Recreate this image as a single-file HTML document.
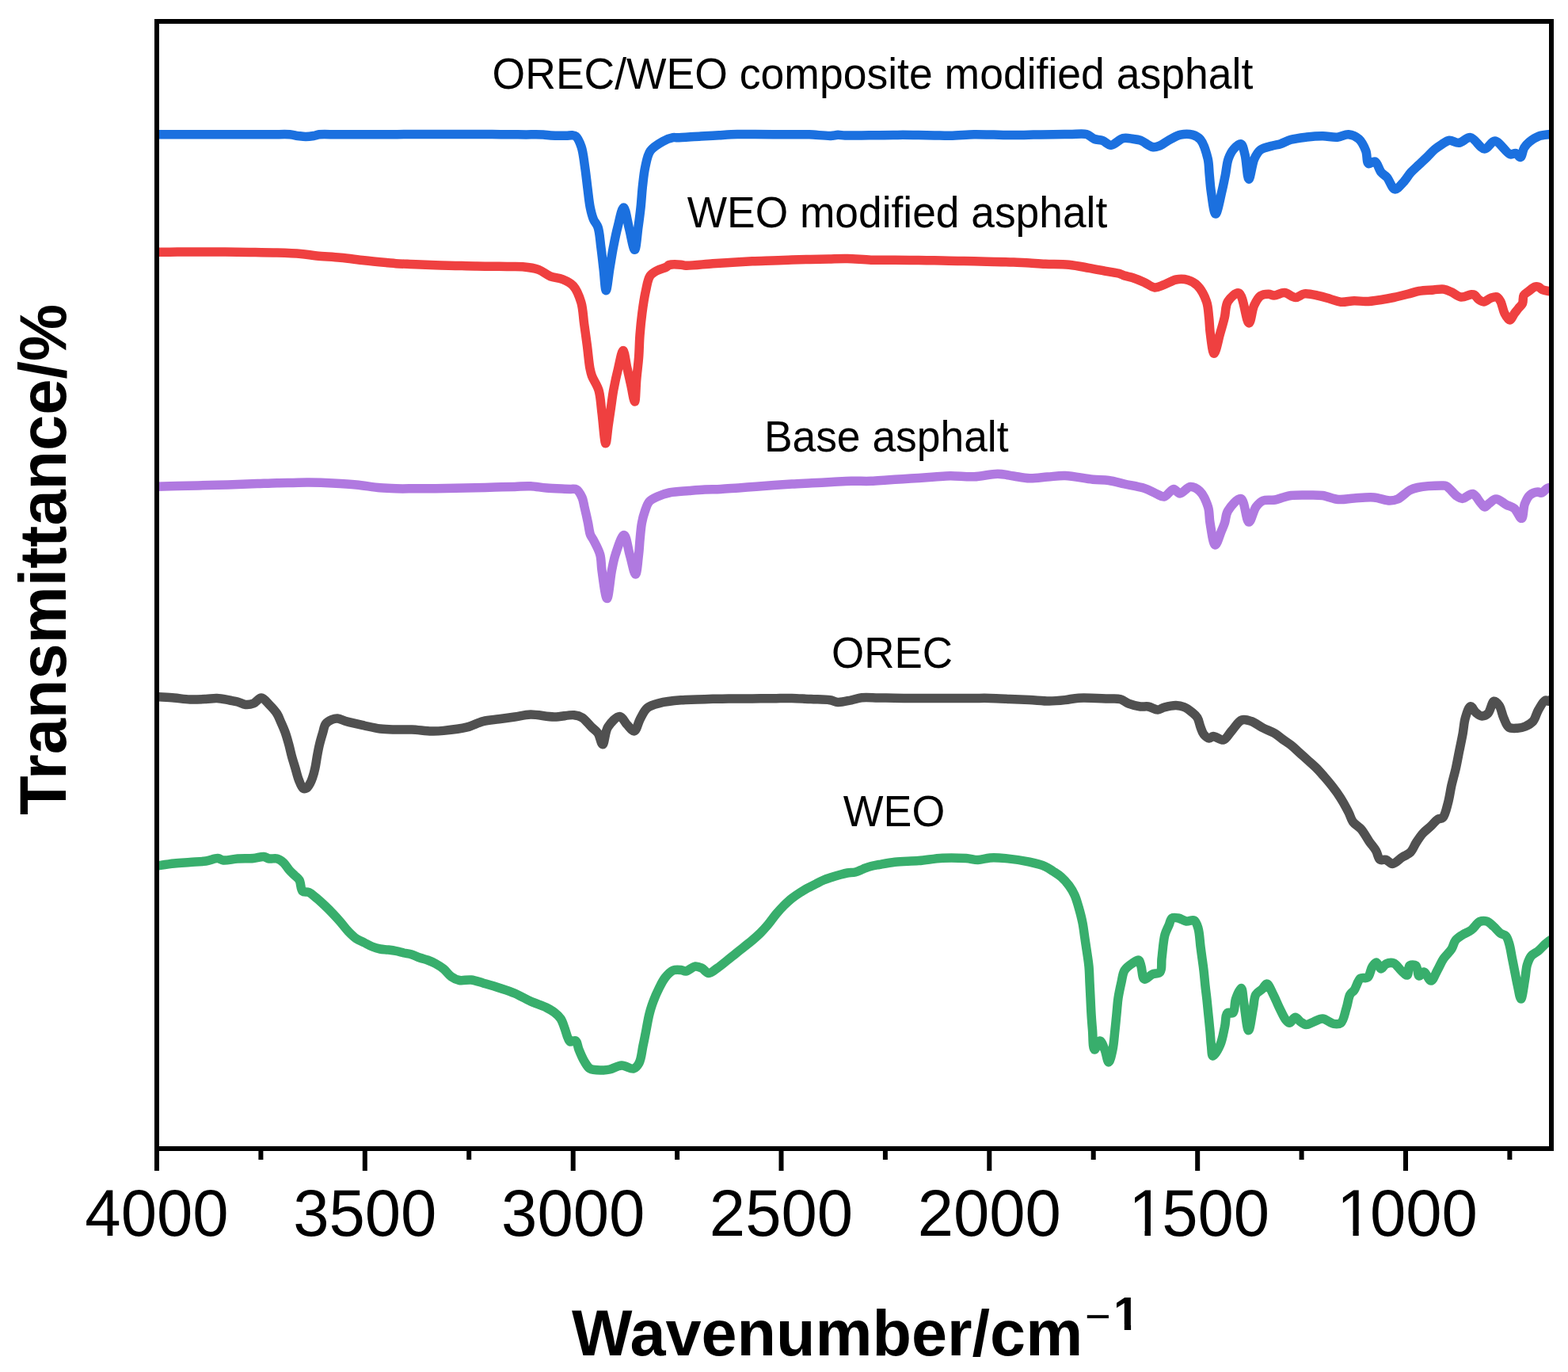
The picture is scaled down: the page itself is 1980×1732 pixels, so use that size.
<!DOCTYPE html>
<html><head><meta charset="utf-8"><style>
html,body{margin:0;padding:0;background:#fff;}
svg{display:block;}
</style></head><body>
<svg width="1980" height="1732" viewBox="0 0 1980 1732">
<rect x="0" y="0" width="1980" height="1732" fill="#ffffff"/>
<defs><clipPath id="c"><rect x="198" y="27" width="1761" height="1423"/></clipPath>
<clipPath id="nf"><path clip-rule="evenodd" d="M0,0H1980V1732H0Z M1427.5,1552.8H1445.5V1561H1427.5Z M1452.95,1552.8H1470.5V1561H1452.95Z M1690.5,1552.8H1708.5V1561H1690.5Z M1715.7,1552.8H1732.5V1561H1715.7Z M1404,1672.5H1419.8V1679.5H1404Z M1428.1,1672.5H1442V1679.5H1428.1Z"/></clipPath>
</defs>
<g clip-path="url(#c)" fill="none" stroke-width="11.5" stroke-linejoin="round" stroke-linecap="round">
<path stroke="#38AE6C" d="M198.0,1093.0 C201.7,1092.5 212.8,1090.8 220.0,1090.0 C226.8,1089.3 233.3,1089.0 240.0,1088.5 C246.7,1088.0 253.8,1087.9 260.0,1087.0 C265.4,1086.2 271.0,1083.3 275.0,1083.5 C277.8,1083.7 279.1,1085.7 282.0,1086.0 C286.6,1086.5 293.8,1084.4 300.0,1084.0 C306.5,1083.6 314.1,1084.0 320.0,1083.5 C324.8,1083.1 329.4,1081.2 333.0,1081.5 C335.7,1081.8 337.4,1083.6 340.0,1084.0 C343.0,1084.5 347.0,1083.1 350.0,1084.0 C352.9,1084.8 355.6,1086.8 358.0,1089.0 C360.6,1091.4 362.6,1095.3 365.0,1098.0 C367.3,1100.6 369.8,1102.8 372.0,1105.0 C374.1,1107.1 376.4,1108.3 378.0,1111.0 C380.1,1114.5 379.4,1122.6 382.0,1125.0 C384.0,1126.8 387.3,1125.3 390.0,1126.5 C393.3,1128.0 396.7,1131.3 400.0,1134.0 C403.4,1136.8 406.7,1139.9 410.0,1143.0 C413.4,1146.2 416.7,1149.5 420.0,1153.0 C423.4,1156.5 426.7,1160.2 430.0,1164.0 C433.4,1167.9 436.5,1172.4 440.0,1176.0 C443.2,1179.3 446.5,1182.6 450.0,1185.0 C453.2,1187.2 456.7,1188.3 460.0,1190.0 C463.3,1191.7 466.6,1193.7 470.0,1195.0 C473.3,1196.3 476.6,1197.3 480.0,1198.0 C483.3,1198.7 486.7,1198.6 490.0,1199.0 C493.3,1199.4 496.7,1199.8 500.0,1200.5 C503.3,1201.2 506.7,1202.2 510.0,1203.0 C513.3,1203.7 516.7,1204.0 520.0,1205.0 C523.4,1206.0 526.6,1207.8 530.0,1209.0 C533.3,1210.2 536.7,1210.8 540.0,1212.0 C543.4,1213.3 546.7,1214.7 550.0,1216.5 C553.4,1218.4 556.8,1220.4 560.0,1223.0 C563.5,1225.8 566.4,1230.5 570.0,1233.0 C573.1,1235.2 576.2,1236.8 580.0,1237.5 C584.4,1238.4 590.0,1236.4 595.0,1237.0 C600.0,1237.6 604.7,1239.5 610.0,1241.0 C616.2,1242.8 623.4,1244.8 630.0,1247.0 C636.7,1249.2 643.4,1251.2 650.0,1254.0 C656.8,1256.9 663.3,1261.0 670.0,1264.0 C676.6,1267.0 684.6,1269.3 690.0,1272.0 C694.0,1274.0 697.0,1275.6 700.0,1278.0 C703.0,1280.3 705.9,1282.8 708.0,1286.0 C710.3,1289.4 711.5,1294.0 713.0,1298.0 C714.5,1302.0 715.6,1306.9 717.0,1310.0 C718.0,1312.1 718.5,1314.3 720.0,1315.0 C721.7,1315.8 725.2,1312.9 727.0,1314.0 C729.3,1315.4 729.4,1321.1 731.0,1325.0 C732.9,1329.7 735.4,1335.8 738.0,1340.0 C740.2,1343.5 741.7,1347.1 745.0,1349.0 C748.8,1351.2 755.5,1350.9 760.0,1351.0 C763.7,1351.1 766.4,1350.8 770.0,1350.0 C774.5,1349.0 780.0,1345.2 785.0,1345.0 C790.0,1344.8 796.2,1350.0 800.0,1349.0 C803.1,1348.2 805.2,1345.3 807.0,1342.0 C809.8,1337.0 810.5,1327.2 812.0,1320.0 C813.5,1313.2 814.7,1306.7 816.0,1300.0 C817.3,1293.3 818.4,1286.3 820.0,1280.0 C821.4,1274.3 823.0,1269.3 825.0,1264.0 C827.0,1258.6 829.4,1253.1 832.0,1248.0 C834.5,1243.1 836.8,1237.9 840.0,1234.0 C842.9,1230.4 846.4,1226.5 850.0,1225.0 C853.1,1223.7 857.1,1224.2 860.0,1224.5 C862.3,1224.7 863.7,1226.3 866.0,1226.0 C869.4,1225.6 874.3,1220.4 878.0,1220.0 C880.9,1219.7 883.4,1220.8 886.0,1222.0 C889.1,1223.4 891.8,1228.4 895.0,1228.5 C898.4,1228.7 902.2,1224.6 906.0,1222.0 C910.5,1218.9 915.7,1214.4 920.0,1211.0 C923.6,1208.1 926.7,1205.7 930.0,1203.0 C933.3,1200.3 936.7,1197.7 940.0,1195.0 C943.3,1192.3 946.7,1189.8 950.0,1187.0 C953.4,1184.1 956.7,1181.2 960.0,1178.0 C963.4,1174.6 966.7,1170.9 970.0,1167.0 C973.4,1162.9 976.6,1158.1 980.0,1154.0 C983.3,1150.1 986.6,1146.4 990.0,1143.0 C993.3,1139.8 996.6,1136.7 1000.0,1134.0 C1003.3,1131.4 1006.6,1129.2 1010.0,1127.0 C1013.3,1124.9 1016.6,1122.8 1020.0,1121.0 C1023.3,1119.2 1026.7,1117.7 1030.0,1116.0 C1033.3,1114.3 1036.6,1112.4 1040.0,1111.0 C1043.3,1109.6 1046.7,1108.6 1050.0,1107.5 C1053.3,1106.4 1056.7,1105.4 1060.0,1104.5 C1063.3,1103.6 1066.6,1102.6 1070.0,1102.0 C1073.3,1101.4 1076.7,1101.8 1080.0,1101.0 C1083.4,1100.2 1086.7,1098.3 1090.0,1097.0 C1093.3,1095.8 1096.6,1094.4 1100.0,1093.5 C1103.3,1092.6 1106.1,1092.2 1110.0,1091.5 C1115.5,1090.5 1122.6,1089.0 1130.0,1088.2 C1139.0,1087.2 1150.0,1087.4 1160.0,1086.6 C1170.0,1085.8 1180.0,1083.7 1190.0,1083.2 C1200.0,1082.7 1211.7,1083.0 1220.0,1083.6 C1225.9,1084.0 1230.0,1085.7 1235.0,1085.6 C1240.0,1085.5 1244.6,1083.3 1250.0,1082.9 C1256.2,1082.5 1262.7,1082.9 1270.0,1083.6 C1279.0,1084.4 1291.1,1086.2 1300.0,1088.2 C1307.4,1089.8 1314.6,1091.6 1320.0,1094.0 C1324.0,1095.8 1326.7,1097.9 1330.0,1100.0 C1333.4,1102.2 1336.8,1104.2 1340.0,1107.0 C1343.5,1110.1 1347.1,1114.1 1350.0,1118.0 C1352.8,1121.8 1355.0,1125.7 1357.0,1130.0 C1359.1,1134.6 1360.4,1139.6 1362.0,1145.0 C1363.8,1151.2 1365.7,1158.3 1367.0,1165.0 C1368.3,1171.6 1369.0,1178.3 1370.0,1185.0 C1371.0,1191.7 1372.1,1198.8 1373.0,1205.0 C1373.8,1210.4 1374.5,1214.6 1375.0,1220.0 C1375.6,1226.2 1375.7,1233.3 1376.0,1240.0 C1376.3,1246.7 1376.7,1253.3 1377.0,1260.0 C1377.3,1266.7 1377.6,1273.3 1378.0,1280.0 C1378.4,1286.7 1378.9,1293.0 1379.5,1300.0 C1380.2,1307.9 1379.8,1324.5 1382.0,1325.0 C1383.6,1325.4 1386.8,1313.9 1389.0,1314.0 C1391.1,1314.1 1393.3,1320.9 1395.0,1325.0 C1397.0,1329.7 1398.3,1341.0 1400.0,1341.0 C1401.7,1341.0 1403.7,1331.0 1405.0,1325.0 C1406.6,1317.7 1407.1,1307.9 1408.0,1300.0 C1408.8,1293.0 1409.3,1286.7 1410.0,1280.0 C1410.7,1273.3 1411.0,1266.6 1412.0,1260.0 C1413.0,1253.3 1414.6,1246.2 1416.0,1240.0 C1417.3,1234.6 1417.5,1229.1 1420.0,1225.0 C1422.3,1221.2 1426.7,1218.2 1430.0,1216.0 C1432.7,1214.2 1436.2,1211.3 1438.0,1212.0 C1439.8,1212.7 1440.0,1216.8 1441.0,1220.0 C1442.4,1224.4 1442.2,1234.9 1445.0,1236.0 C1447.3,1237.0 1451.6,1231.5 1455.0,1230.0 C1458.2,1228.6 1462.9,1229.5 1465.0,1227.0 C1467.7,1223.8 1466.2,1216.5 1467.0,1210.0 C1468.1,1201.4 1468.9,1187.6 1471.0,1180.0 C1472.4,1175.0 1474.4,1171.7 1476.0,1168.0 C1477.4,1164.8 1477.8,1160.4 1480.0,1159.0 C1482.0,1157.7 1485.2,1158.5 1488.0,1159.0 C1491.2,1159.6 1494.6,1162.5 1498.0,1163.0 C1501.3,1163.5 1505.5,1160.6 1508.0,1162.0 C1510.6,1163.4 1511.7,1167.9 1513.0,1172.0 C1514.8,1178.0 1515.1,1188.2 1516.0,1195.0 C1516.7,1200.5 1517.3,1205.0 1518.0,1210.0 C1518.7,1215.0 1519.4,1219.6 1520.0,1225.0 C1520.7,1231.2 1521.3,1238.6 1522.0,1245.0 C1522.6,1250.9 1523.4,1256.1 1524.0,1262.0 C1524.7,1268.4 1525.3,1275.3 1526.0,1282.0 C1526.7,1288.7 1527.4,1295.5 1528.0,1302.0 C1528.6,1308.2 1528.8,1314.5 1529.5,1320.0 C1530.1,1324.7 1529.9,1332.6 1531.5,1333.0 C1533.4,1333.4 1538.4,1324.5 1540.8,1319.0 C1543.7,1312.5 1545.0,1303.1 1546.6,1295.9 C1548.0,1289.7 1547.3,1280.8 1550.0,1278.6 C1551.7,1277.2 1555.3,1280.0 1557.0,1278.6 C1559.7,1276.4 1558.6,1266.6 1560.4,1261.2 C1562.1,1256.2 1565.6,1247.2 1567.3,1247.4 C1569.2,1247.7 1569.5,1259.6 1570.8,1267.0 C1572.5,1276.7 1574.6,1300.7 1576.6,1300.7 C1578.5,1300.7 1580.7,1281.0 1582.4,1272.8 C1583.7,1266.4 1583.4,1259.7 1585.8,1255.5 C1587.7,1252.2 1591.5,1250.9 1593.9,1248.5 C1596.1,1246.4 1597.7,1241.8 1599.7,1242.0 C1602.3,1242.2 1605.2,1250.6 1607.8,1255.5 C1610.6,1260.8 1613.0,1267.3 1615.8,1272.8 C1618.4,1278.0 1621.2,1284.7 1623.9,1287.8 C1625.4,1289.6 1626.9,1291.4 1628.5,1291.3 C1630.6,1291.2 1633.1,1284.4 1635.5,1284.3 C1637.8,1284.2 1640.0,1288.4 1642.4,1290.0 C1644.6,1291.5 1646.8,1293.4 1649.3,1293.6 C1652.1,1293.8 1655.3,1291.3 1658.6,1290.1 C1662.2,1288.8 1666.1,1285.9 1670.1,1286.1 C1674.6,1286.3 1679.8,1291.7 1684.0,1292.4 C1687.3,1292.9 1690.7,1293.2 1693.2,1291.3 C1696.8,1288.5 1698.1,1278.9 1700.1,1272.8 C1702.0,1267.0 1702.6,1259.5 1704.8,1255.5 C1706.3,1252.9 1708.2,1252.4 1710.0,1250.0 C1712.6,1246.4 1714.5,1237.4 1718.0,1235.0 C1720.6,1233.3 1724.6,1235.8 1727.0,1234.0 C1730.1,1231.7 1730.7,1223.3 1733.0,1220.0 C1734.5,1217.7 1736.3,1214.9 1738.0,1215.0 C1740.0,1215.1 1741.9,1222.9 1744.0,1223.0 C1745.9,1223.1 1747.5,1218.2 1750.0,1217.0 C1752.7,1215.7 1756.9,1214.9 1760.0,1216.0 C1763.7,1217.3 1766.9,1223.3 1770.0,1226.0 C1772.5,1228.1 1775.3,1231.6 1777.0,1231.0 C1779.0,1230.3 1777.7,1220.8 1780.0,1219.0 C1781.8,1217.6 1786.0,1217.6 1788.0,1219.0 C1790.5,1220.9 1789.9,1231.4 1792.0,1232.0 C1793.6,1232.5 1795.9,1226.8 1798.0,1227.0 C1800.8,1227.3 1804.2,1238.2 1807.0,1238.0 C1809.9,1237.8 1812.4,1229.5 1815.0,1225.0 C1817.7,1220.2 1819.9,1214.6 1823.0,1210.0 C1826.0,1205.6 1830.4,1202.1 1833.0,1198.0 C1835.3,1194.4 1835.6,1190.0 1838.0,1187.0 C1840.3,1184.1 1843.8,1182.1 1847.0,1180.0 C1850.4,1177.8 1854.5,1176.6 1858.0,1174.0 C1861.8,1171.2 1865.0,1165.0 1868.7,1163.4 C1871.5,1162.2 1874.6,1162.2 1877.3,1163.0 C1880.4,1163.9 1883.2,1167.1 1886.0,1169.5 C1889.0,1172.1 1891.7,1176.0 1894.6,1178.1 C1896.9,1179.8 1899.8,1179.6 1901.6,1181.6 C1903.8,1183.9 1904.7,1188.0 1905.9,1192.0 C1907.4,1197.0 1908.2,1203.5 1909.4,1209.3 C1910.5,1215.1 1911.7,1220.8 1912.8,1226.6 C1914.0,1232.4 1915.0,1238.2 1916.3,1243.9 C1917.6,1249.6 1919.2,1261.0 1920.6,1261.0 C1922.3,1261.0 1924.4,1243.0 1925.8,1235.3 C1926.9,1229.0 1926.9,1223.1 1928.4,1218.0 C1929.7,1213.7 1931.1,1209.7 1933.6,1206.7 C1935.9,1204.0 1939.5,1202.9 1942.3,1200.6 C1945.3,1198.1 1948.6,1194.2 1951.0,1192.0 C1952.6,1190.5 1953.7,1189.7 1955.3,1188.5 C1957.3,1187.1 1960.9,1184.8 1962.0,1184.0"/>
<path stroke="#505050" d="M198.0,879.5 C201.7,879.8 212.8,880.4 220.0,881.0 C226.8,881.6 233.3,882.8 240.0,883.0 C246.7,883.2 253.9,882.8 260.0,882.5 C265.1,882.3 269.2,881.3 274.0,881.5 C279.2,881.7 285.3,883.2 290.0,884.0 C293.7,884.7 296.7,885.1 300.0,886.0 C303.4,886.9 306.6,889.2 310.0,889.5 C313.3,889.8 316.8,889.3 320.0,888.0 C323.5,886.6 326.7,880.8 330.0,881.0 C333.4,881.2 336.8,886.3 340.0,889.5 C343.4,892.9 347.2,897.0 349.8,901.0 C352.1,904.6 353.3,908.4 355.0,912.3 C356.8,916.4 358.7,920.5 360.3,925.0 C362.0,929.8 363.4,935.0 364.8,940.0 C366.2,945.0 367.1,950.0 368.5,955.0 C369.9,960.0 371.5,965.0 373.0,970.0 C374.5,975.0 375.7,980.6 377.5,985.0 C379.0,988.8 380.7,994.0 382.8,995.2 C384.1,995.9 385.7,995.7 387.0,995.0 C388.7,994.1 390.3,991.2 391.5,989.0 C392.8,986.8 393.6,984.7 394.5,982.0 C395.7,978.6 396.9,974.2 397.8,970.0 C398.9,965.3 399.5,960.0 400.4,955.0 C401.3,950.0 402.2,945.0 403.4,940.0 C404.6,935.0 406.2,929.6 407.6,925.0 C408.8,921.0 409.2,916.6 411.3,913.8 C413.1,911.3 416.2,909.6 418.8,908.5 C421.2,907.5 423.6,906.8 426.3,907.0 C429.7,907.2 433.2,909.5 437.6,910.8 C443.8,912.5 452.7,914.4 460.0,916.0 C466.8,917.5 473.3,919.2 480.0,920.0 C486.6,920.8 493.3,920.8 500.0,921.0 C506.7,921.2 513.0,920.7 520.0,921.0 C527.9,921.3 537.7,922.9 545.0,923.0 C550.6,923.1 554.2,923.0 560.0,922.4 C568.3,921.6 581.1,920.2 590.0,917.9 C597.4,916.0 603.2,912.3 610.0,910.6 C616.6,909.0 623.3,908.7 630.0,907.8 C636.7,906.9 643.3,906.0 650.0,905.0 C656.7,904.0 662.6,902.2 670.0,902.0 C679.0,901.8 690.5,905.0 700.0,905.0 C708.7,905.0 718.6,902.0 725.0,902.7 C729.1,903.1 731.8,903.8 735.0,905.8 C739.1,908.3 743.4,914.4 747.0,917.9 C749.9,920.8 752.8,922.3 755.0,925.5 C757.6,929.3 759.1,939.9 761.0,939.8 C763.3,939.7 763.8,923.9 767.6,917.9 C771.2,912.3 778.4,904.2 782.7,904.5 C786.2,904.7 788.7,911.7 791.8,914.8 C794.8,917.8 798.4,923.4 801.0,922.9 C804.1,922.3 805.7,912.2 808.5,907.3 C811.2,902.5 813.5,896.9 817.6,893.6 C821.6,890.3 826.8,889.2 832.7,887.6 C840.4,885.6 851.6,884.5 860.0,883.8 C867.2,883.2 873.3,883.3 880.0,883.0 C886.7,882.8 893.3,882.5 900.0,882.3 C906.7,882.1 913.3,882.2 920.0,882.1 C926.7,882.1 933.3,882.0 940.0,882.0 C946.7,881.9 953.3,881.9 960.0,881.8 C966.7,881.8 973.3,881.7 980.0,881.7 C986.7,881.6 993.0,881.4 1000.0,881.5 C1007.6,881.7 1016.0,882.3 1024.0,882.6 C1032.0,883.0 1041.8,882.8 1048.0,883.8 C1052.1,884.4 1054.2,886.3 1058.0,886.5 C1062.9,886.8 1069.7,884.8 1075.0,883.8 C1079.6,882.9 1083.1,881.3 1088.0,880.8 C1094.1,880.1 1101.8,880.9 1108.7,881.0 C1115.6,881.1 1122.4,881.1 1129.3,881.2 C1136.2,881.3 1143.2,881.4 1150.0,881.4 C1156.7,881.4 1163.3,881.4 1170.0,881.4 C1176.7,881.4 1183.3,881.4 1190.0,881.4 C1196.7,881.4 1203.3,881.4 1210.0,881.4 C1216.7,881.4 1223.3,881.4 1230.0,881.4 C1236.7,881.4 1243.0,881.3 1250.0,881.4 C1257.9,881.6 1266.7,882.1 1275.0,882.5 C1283.3,882.8 1291.7,883.1 1300.0,883.5 C1308.3,883.9 1317.1,885.0 1325.0,885.0 C1332.0,885.0 1338.6,884.3 1345.0,883.6 C1350.9,883.0 1355.2,881.6 1362.0,881.2 C1372.1,880.6 1390.2,881.7 1400.0,882.0 C1406.1,882.2 1410.6,881.5 1415.0,882.7 C1418.8,883.8 1421.2,886.7 1425.0,888.2 C1429.4,889.9 1435.5,891.4 1440.0,892.0 C1443.6,892.5 1446.6,891.4 1450.0,892.0 C1453.9,892.6 1458.4,896.1 1462.0,896.0 C1464.9,895.9 1466.9,893.8 1470.0,893.0 C1474.2,891.9 1480.5,890.4 1485.0,890.5 C1488.7,890.6 1491.8,891.2 1495.0,892.5 C1498.5,893.9 1502.1,896.6 1505.0,899.0 C1507.7,901.2 1510.2,903.1 1512.0,906.0 C1514.0,909.3 1514.6,914.3 1516.0,918.0 C1517.3,921.2 1518.1,924.6 1520.0,927.0 C1521.8,929.2 1524.8,931.8 1527.0,932.0 C1528.8,932.1 1529.9,929.6 1532.0,929.5 C1535.3,929.3 1541.2,935.0 1545.0,934.0 C1548.9,933.0 1551.4,926.9 1555.0,923.0 C1559.0,918.6 1563.3,910.7 1568.0,909.0 C1571.8,907.6 1575.9,909.1 1580.0,910.5 C1584.9,912.1 1589.9,916.4 1595.0,919.0 C1600.0,921.6 1605.6,923.4 1610.0,926.0 C1613.8,928.3 1616.6,931.0 1620.0,933.5 C1623.4,936.0 1627.0,938.1 1630.4,940.8 C1634.0,943.6 1637.3,947.0 1640.8,950.1 C1644.3,953.2 1647.7,956.4 1651.2,959.5 C1654.7,962.6 1658.2,965.5 1661.6,968.9 C1665.2,972.4 1668.6,976.4 1672.0,980.3 C1675.5,984.3 1679.0,988.4 1682.4,992.8 C1686.0,997.4 1689.5,1002.1 1692.8,1007.3 C1696.4,1013.0 1700.4,1020.5 1703.2,1026.0 C1705.3,1030.2 1705.9,1034.1 1708.4,1037.5 C1711.0,1041.1 1715.6,1043.1 1718.8,1046.8 C1722.5,1051.1 1725.8,1057.6 1729.1,1062.4 C1732.0,1066.5 1735.2,1069.9 1737.5,1073.8 C1739.7,1077.5 1740.1,1083.6 1742.7,1085.3 C1744.7,1086.6 1747.6,1084.6 1750.0,1085.3 C1752.8,1086.1 1755.3,1090.5 1758.3,1090.5 C1762.0,1090.4 1766.7,1084.7 1770.7,1082.2 C1774.3,1079.9 1778.2,1078.8 1781.1,1075.9 C1784.2,1072.7 1785.8,1067.5 1788.4,1063.5 C1791.0,1059.5 1793.6,1055.5 1796.7,1052.0 C1799.8,1048.6 1803.9,1045.8 1807.1,1042.7 C1810.1,1039.9 1812.6,1036.0 1815.4,1034.3 C1817.5,1033.0 1820.1,1034.0 1821.9,1032.2 C1825.0,1029.1 1826.7,1020.0 1828.5,1013.5 C1830.4,1006.6 1831.3,998.9 1832.9,991.6 C1834.6,984.3 1836.7,977.0 1838.4,969.7 C1840.0,962.4 1841.3,955.0 1842.8,947.7 C1844.3,940.4 1845.9,932.9 1847.2,925.8 C1848.4,919.1 1848.6,912.0 1850.4,906.1 C1852.0,900.8 1854.5,892.1 1857.0,891.8 C1859.0,891.5 1861.1,897.4 1863.6,899.5 C1865.9,901.4 1868.7,903.8 1871.3,903.9 C1873.8,904.0 1876.8,902.7 1879.0,900.6 C1882.2,897.6 1883.7,885.8 1886.6,885.2 C1888.6,884.8 1891.4,888.1 1893.2,890.7 C1895.7,894.3 1896.6,901.4 1898.7,906.1 C1900.7,910.4 1902.1,916.0 1905.3,918.1 C1908.2,920.0 1912.8,919.4 1916.3,919.2 C1919.7,919.0 1922.9,918.4 1926.1,917.0 C1929.5,915.5 1933.3,913.5 1936.0,910.4 C1939.0,906.8 1940.0,900.6 1942.6,896.2 C1945.1,891.9 1948.6,885.1 1951.3,884.1 C1952.8,883.5 1954.2,885.5 1955.7,885.2 C1957.7,884.7 1961.0,880.9 1962.0,880.0"/>
<path stroke="#B079E0" d="M198.0,614.2 C202.3,614.1 215.3,613.8 224.0,613.6 C232.7,613.4 241.4,613.2 250.0,613.0 C258.4,612.8 266.7,612.5 275.0,612.2 C283.3,612.0 291.7,611.8 300.0,611.5 C308.3,611.2 316.7,610.9 325.0,610.6 C333.3,610.3 342.1,609.9 350.0,609.7 C357.0,609.5 363.3,609.5 370.0,609.4 C376.7,609.3 382.7,609.0 390.0,609.1 C399.0,609.2 410.0,609.5 420.0,610.0 C430.0,610.5 440.0,611.0 450.0,612.0 C460.0,613.0 471.0,615.0 480.0,615.8 C487.3,616.4 493.0,616.6 500.0,616.8 C507.9,617.0 516.7,616.8 525.0,616.8 C533.3,616.7 541.7,616.8 550.0,616.7 C558.3,616.6 566.7,616.4 575.0,616.2 C583.3,616.1 591.7,616.0 600.0,615.8 C608.3,615.6 616.7,615.3 625.0,615.1 C633.3,614.9 642.1,614.6 650.0,614.4 C657.0,614.2 663.3,613.5 670.0,613.8 C676.7,614.1 682.6,615.4 690.0,616.0 C699.0,616.7 713.2,617.0 720.0,617.4 C723.5,617.6 725.7,616.7 728.0,618.0 C730.9,619.6 733.3,624.3 735.0,628.0 C736.7,631.7 736.9,635.5 738.0,640.0 C739.4,645.8 741.2,653.8 742.5,660.0 C743.6,665.4 744.1,671.2 745.5,675.0 C746.5,677.6 747.6,678.4 749.0,681.0 C751.3,685.5 755.9,693.4 757.7,700.0 C759.5,706.4 758.9,712.4 760.0,720.0 C761.5,730.2 764.4,755.5 766.5,755.5 C768.6,755.5 770.5,730.1 772.5,720.0 C774.0,712.4 774.9,706.9 777.2,700.0 C779.8,692.1 785.0,675.3 788.0,675.5 C791.0,675.7 792.8,692.0 795.2,700.2 C797.7,708.5 800.6,725.1 802.5,725.0 C804.4,724.9 805.5,707.9 806.5,700.0 C807.4,693.0 807.5,686.7 808.2,680.0 C808.9,673.3 809.3,666.1 810.5,660.0 C811.5,654.6 812.8,649.7 814.5,645.0 C816.0,640.7 817.3,636.0 820.0,633.0 C822.6,630.1 826.2,628.7 830.0,627.0 C834.4,625.0 839.3,623.2 845.0,622.0 C852.2,620.5 862.1,620.2 870.0,619.5 C877.0,618.9 883.3,618.3 890.0,618.0 C896.7,617.7 903.1,617.8 910.0,617.5 C917.3,617.1 925.0,616.4 932.5,615.9 C940.0,615.3 947.5,614.8 955.0,614.2 C962.5,613.7 970.0,613.2 977.5,612.6 C985.0,612.1 992.3,611.5 1000.0,611.0 C1008.1,610.5 1016.7,610.2 1025.0,609.8 C1033.3,609.4 1041.7,608.9 1050.0,608.5 C1058.3,608.1 1066.7,607.5 1075.0,607.3 C1083.3,607.1 1092.1,607.6 1100.0,607.3 C1107.0,607.1 1113.3,606.4 1120.0,606.0 C1126.7,605.6 1133.3,605.1 1140.0,604.7 C1146.7,604.3 1153.3,603.8 1160.0,603.4 C1166.7,603.0 1173.3,602.5 1180.0,602.1 C1186.7,601.7 1192.7,600.9 1200.0,600.8 C1209.0,600.7 1220.0,602.2 1230.0,601.8 C1240.0,601.4 1251.0,598.2 1260.0,598.3 C1267.3,598.4 1273.3,600.1 1280.0,601.0 C1286.7,602.0 1293.1,603.6 1300.0,603.8 C1307.3,604.0 1315.0,602.7 1322.5,602.1 C1330.0,601.6 1336.7,600.2 1345.0,600.5 C1355.4,600.8 1369.9,604.3 1380.0,605.3 C1387.6,606.0 1393.4,605.6 1400.0,606.5 C1406.7,607.4 1413.0,609.4 1420.0,611.0 C1427.9,612.7 1437.8,614.0 1445.0,616.4 C1450.8,618.3 1455.5,621.3 1460.0,623.2 C1463.6,624.7 1466.7,627.5 1470.0,627.0 C1474.0,626.4 1478.4,617.5 1482.0,617.4 C1484.9,617.3 1487.0,623.0 1490.0,623.0 C1493.8,623.1 1498.7,614.8 1503.0,614.5 C1507.0,614.2 1511.6,616.8 1515.0,620.0 C1519.5,624.2 1523.3,633.1 1525.5,640.0 C1527.5,646.5 1526.7,652.8 1528.0,660.0 C1529.5,668.6 1531.8,687.7 1534.5,688.0 C1536.8,688.2 1540.3,675.1 1542.5,670.0 C1544.1,666.2 1545.3,663.7 1546.5,660.0 C1548.0,655.5 1547.7,649.7 1550.5,645.0 C1553.9,639.4 1562.7,628.4 1567.0,629.5 C1572.0,630.8 1573.5,658.8 1577.0,659.0 C1579.9,659.2 1582.5,644.7 1586.0,640.0 C1588.7,636.4 1591.3,633.5 1595.0,632.0 C1599.1,630.3 1605.5,631.8 1610.0,631.0 C1613.7,630.3 1616.7,628.9 1620.0,628.0 C1623.3,627.1 1626.1,626.0 1630.0,625.5 C1635.5,624.8 1643.3,625.0 1650.0,625.0 C1656.7,625.0 1663.4,624.6 1670.0,625.5 C1676.7,626.4 1683.3,629.9 1690.0,630.5 C1696.6,631.1 1703.0,629.4 1710.0,629.0 C1717.9,628.5 1727.2,627.4 1735.0,628.0 C1742.1,628.6 1749.5,632.0 1755.0,632.0 C1758.9,632.0 1761.5,631.5 1765.0,630.0 C1769.7,627.9 1775.3,621.5 1780.0,619.0 C1783.5,617.1 1785.7,616.4 1790.0,615.5 C1797.3,614.0 1813.8,613.0 1820.0,613.0 C1822.8,613.0 1823.8,612.5 1826.0,613.5 C1830.0,615.2 1836.0,623.9 1840.0,626.5 C1842.5,628.1 1844.0,629.4 1846.6,629.4 C1850.2,629.4 1855.9,622.7 1859.7,623.5 C1863.6,624.3 1866.7,631.6 1869.5,634.6 C1871.5,636.7 1872.9,639.8 1874.8,639.9 C1876.7,640.0 1878.5,636.8 1880.7,635.3 C1883.2,633.5 1886.0,630.1 1889.2,630.0 C1893.1,629.9 1898.3,635.2 1902.4,637.3 C1905.9,639.1 1909.3,639.5 1912.2,641.9 C1915.7,644.8 1919.2,654.8 1921.4,654.3 C1923.8,653.8 1923.4,641.2 1925.4,636.0 C1927.1,631.7 1929.0,627.3 1932.0,624.8 C1934.7,622.5 1939.1,621.0 1941.8,620.9 C1943.6,620.8 1944.7,622.5 1946.4,622.2 C1948.8,621.8 1951.4,617.5 1954.2,616.3 C1956.7,615.2 1960.7,615.2 1962.0,615.0"/>
<path stroke="#EF4040" d="M198.0,318.3 C202.3,318.3 215.3,318.2 224.0,318.1 C232.7,318.0 241.4,317.9 250.0,317.9 C258.4,317.9 266.7,318.0 275.0,318.0 C283.3,318.1 291.9,318.1 300.0,318.2 C307.7,318.3 315.0,318.4 322.5,318.5 C330.0,318.7 336.7,318.7 345.0,318.9 C355.4,319.2 370.0,319.5 380.0,320.4 C387.6,321.1 392.6,322.2 400.0,323.0 C409.0,323.9 420.0,324.3 430.0,325.3 C440.0,326.3 450.0,327.7 460.0,328.8 C470.0,329.9 482.7,331.1 490.0,331.8 C494.2,332.2 495.9,332.4 500.0,332.7 C506.5,333.1 516.7,333.4 525.0,333.8 C533.3,334.1 541.7,334.5 550.0,334.8 C558.3,335.1 566.7,335.2 575.0,335.4 C583.3,335.6 592.1,335.9 600.0,336.0 C607.0,336.1 613.3,336.2 620.0,336.2 C626.7,336.3 633.3,336.4 640.0,336.5 C646.7,336.5 653.4,336.1 660.0,336.7 C666.7,337.3 674.0,338.1 680.0,340.3 C685.5,342.3 689.9,346.8 695.0,348.8 C699.9,350.7 705.2,350.5 710.0,352.5 C714.9,354.5 720.1,356.6 723.9,360.8 C728.4,365.8 731.5,374.0 733.8,381.6 C736.3,390.0 736.4,400.1 737.7,409.3 C739.0,418.5 740.3,427.8 741.5,437.0 C742.7,446.3 743.6,457.9 744.9,464.8 C745.7,468.9 746.1,470.8 747.4,474.5 C749.3,479.7 753.9,485.7 756.0,492.5 C758.4,500.6 758.6,510.1 759.9,520.2 C761.5,532.2 763.3,559.7 764.8,559.7 C766.0,559.7 767.0,544.8 768.1,537.3 C769.2,529.8 770.3,522.4 771.4,514.9 C772.5,507.4 773.3,500.3 774.7,492.5 C776.3,483.7 778.5,473.5 780.7,464.8 C782.6,457.0 785.0,442.6 786.9,442.6 C788.7,442.6 790.1,456.9 791.8,464.1 C793.4,471.2 795.0,478.4 796.6,485.5 C798.3,492.7 800.3,507.1 801.5,507.0 C802.8,506.9 802.9,488.0 803.8,478.6 C804.6,469.3 805.9,460.1 806.6,450.9 C807.3,441.7 807.3,432.4 808.0,423.2 C808.7,413.9 809.6,404.6 810.8,395.4 C812.0,386.1 813.4,376.1 815.3,367.7 C816.9,360.6 817.8,352.8 820.9,348.3 C823.2,344.9 826.6,343.3 830.0,341.4 C833.5,339.5 839.1,338.5 841.7,337.0 C843.2,336.2 843.4,335.1 845.0,334.5 C848.1,333.4 856.1,333.9 860.0,334.2 C862.5,334.4 863.2,335.2 866.0,335.3 C872.7,335.7 889.5,333.4 900.0,332.7 C909.0,332.1 916.7,331.7 925.0,331.2 C933.3,330.8 941.7,330.2 950.0,329.8 C958.3,329.4 966.7,329.2 975.0,328.9 C983.3,328.5 991.8,328.1 1000.0,327.9 C1007.9,327.7 1015.6,327.6 1023.3,327.4 C1031.1,327.3 1038.9,327.1 1046.7,327.0 C1054.4,326.8 1061.7,326.3 1070.0,326.5 C1079.4,326.7 1090.0,327.9 1100.0,328.2 C1110.0,328.5 1121.0,328.2 1130.0,328.3 C1137.3,328.3 1143.3,328.4 1150.0,328.5 C1156.7,328.6 1163.3,328.6 1170.0,328.7 C1176.7,328.8 1183.3,328.8 1190.0,328.9 C1196.7,329.0 1203.3,329.2 1210.0,329.4 C1216.7,329.5 1223.0,329.6 1230.0,329.8 C1237.9,330.0 1246.7,330.2 1255.0,330.4 C1263.3,330.5 1272.1,330.6 1280.0,330.9 C1287.0,331.2 1293.3,331.7 1300.0,332.0 C1306.7,332.4 1312.7,332.9 1320.0,333.2 C1329.0,333.6 1340.5,333.3 1350.0,334.2 C1358.7,335.1 1367.1,336.9 1375.0,338.3 C1382.0,339.5 1388.3,340.8 1395.0,342.1 C1401.7,343.4 1410.6,344.6 1415.0,345.9 C1417.3,346.6 1418.0,347.3 1420.0,348.0 C1422.7,348.9 1426.4,349.3 1430.0,350.5 C1434.5,352.0 1440.2,354.3 1445.0,356.4 C1449.5,358.4 1453.7,362.5 1458.0,362.9 C1462.0,363.3 1465.8,360.9 1470.0,359.4 C1474.8,357.7 1479.9,354.0 1485.0,353.0 C1489.9,352.1 1495.4,352.2 1500.0,353.5 C1504.4,354.8 1508.5,356.8 1512.0,360.4 C1516.6,365.0 1521.1,373.6 1523.5,380.6 C1525.8,387.1 1525.8,394.1 1526.6,400.8 C1527.4,407.5 1527.3,413.9 1528.3,421.0 C1529.4,429.0 1531.1,446.2 1533.1,446.3 C1535.2,446.4 1538.4,429.0 1540.7,421.0 C1542.8,413.9 1544.7,407.6 1546.3,400.8 C1547.9,394.1 1547.2,385.8 1550.5,380.6 C1553.5,375.8 1560.5,368.8 1564.4,370.0 C1570.3,371.8 1573.7,408.0 1577.1,407.9 C1579.7,407.8 1580.8,391.8 1583.6,385.7 C1585.9,380.8 1588.3,375.9 1591.7,373.5 C1594.6,371.5 1598.7,371.2 1601.8,371.2 C1604.4,371.2 1606.2,373.0 1608.9,373.0 C1612.6,373.0 1617.6,369.2 1622.0,369.5 C1626.6,369.8 1631.6,375.5 1636.0,375.5 C1639.9,375.5 1642.8,371.4 1647.0,370.9 C1652.2,370.2 1659.3,372.2 1665.0,373.4 C1670.3,374.5 1675.2,376.2 1680.0,377.5 C1684.5,378.8 1688.3,380.8 1693.0,381.2 C1698.2,381.7 1704.5,379.8 1710.0,379.7 C1715.2,379.6 1719.6,380.8 1725.0,380.6 C1731.2,380.4 1738.8,379.1 1745.0,378.2 C1750.4,377.4 1754.7,376.6 1760.0,375.5 C1766.2,374.2 1774.2,372.1 1780.0,370.6 C1784.5,369.4 1787.6,368.2 1792.0,367.4 C1797.4,366.5 1804.5,366.3 1810.0,365.9 C1814.7,365.6 1819.0,364.5 1823.0,365.1 C1826.6,365.6 1829.6,367.3 1833.0,368.8 C1836.9,370.5 1840.8,374.5 1845.0,375.0 C1849.2,375.5 1854.9,371.9 1858.0,371.7 C1859.7,371.6 1860.7,371.6 1862.0,372.3 C1863.8,373.2 1865.0,376.5 1867.0,377.9 C1868.9,379.3 1871.3,381.0 1873.6,380.9 C1876.3,380.8 1879.4,377.4 1882.2,376.4 C1884.7,375.5 1887.7,374.1 1889.8,374.8 C1891.9,375.5 1893.5,378.2 1894.8,380.4 C1896.1,382.6 1896.5,385.5 1897.4,388.0 C1898.2,390.5 1898.6,393.1 1899.9,395.6 C1901.4,398.5 1904.3,404.0 1906.4,404.0 C1908.5,404.0 1910.5,398.2 1912.5,395.6 C1914.3,393.3 1915.9,391.1 1917.6,389.0 C1919.3,386.9 1921.5,385.4 1922.6,382.9 C1923.8,380.1 1922.6,375.4 1924.1,372.8 C1925.4,370.5 1928.0,369.5 1930.2,367.8 C1932.6,366.0 1935.4,363.0 1937.8,362.2 C1939.5,361.6 1941.2,361.7 1942.8,362.2 C1944.6,362.8 1945.9,364.9 1947.9,365.8 C1950.1,366.8 1953.0,367.1 1955.4,367.5 C1957.7,367.8 1960.9,367.9 1962.0,368.0"/>
<path stroke="#1B70DF" d="M198.0,169.8 C201.5,169.8 212.0,169.8 219.0,169.8 C226.0,169.8 233.0,169.8 240.0,169.8 C247.0,169.8 254.0,169.8 261.0,169.8 C268.0,169.8 275.0,169.8 282.0,169.8 C289.0,169.8 296.0,169.8 303.0,169.8 C310.0,169.8 317.0,169.8 324.0,169.8 C331.0,169.8 338.0,169.8 345.0,169.8 C352.0,169.8 360.3,169.3 366.0,169.8 C370.0,170.1 372.7,171.0 376.0,171.5 C379.3,171.9 382.7,172.5 386.0,172.5 C389.3,172.5 393.0,172.0 396.0,171.5 C398.6,171.1 400.0,170.2 403.0,169.8 C408.2,169.2 417.6,169.8 424.9,169.8 C432.2,169.8 439.5,169.7 446.8,169.7 C454.1,169.7 461.4,169.7 468.7,169.7 C476.0,169.7 483.3,169.7 490.6,169.7 C497.9,169.7 505.1,169.6 512.4,169.6 C519.7,169.6 527.0,169.6 534.3,169.6 C541.6,169.6 548.9,169.6 556.2,169.6 C563.5,169.6 570.8,169.5 578.1,169.5 C585.4,169.5 592.7,169.5 600.0,169.5 C607.2,169.5 614.3,169.6 621.5,169.6 C628.7,169.7 635.8,169.7 643.0,169.8 C650.2,169.8 657.3,169.8 664.5,169.9 C671.7,169.9 680.3,169.7 686.0,170.0 C689.8,170.2 691.8,170.8 695.5,171.0 C700.8,171.3 710.0,171.3 715.0,171.2 C718.2,171.1 720.5,170.6 722.7,170.8 C724.4,171.0 725.6,170.9 727.0,172.0 C729.5,174.0 732.3,180.1 734.1,185.4 C736.5,192.4 737.3,202.3 738.6,210.8 C739.9,219.3 740.7,227.7 741.8,236.2 C742.9,244.7 743.7,254.2 745.2,261.6 C746.4,267.4 747.6,272.4 749.4,276.9 C751.0,280.7 753.6,282.7 755.1,287.0 C757.3,293.4 757.7,303.8 758.9,312.4 C760.1,321.3 761.0,330.5 762.1,339.5 C763.2,348.6 764.0,366.7 765.3,366.7 C766.6,366.7 768.3,348.6 769.8,339.5 C771.4,330.5 772.7,321.3 774.4,312.4 C776.1,303.8 777.7,295.4 779.9,287.0 C782.1,278.6 785.1,262.0 787.5,262.0 C790.0,262.0 792.2,279.8 794.5,288.6 C796.8,297.5 799.6,315.4 801.5,315.3 C803.4,315.2 804.6,296.2 805.9,287.0 C807.1,278.3 808.2,270.1 809.1,261.6 C810.0,253.1 810.4,244.7 811.3,236.2 C812.3,227.7 813.0,218.7 814.8,210.8 C816.4,203.6 817.4,195.9 821.2,190.5 C824.9,185.2 831.9,181.3 837.1,178.4 C841.4,176.0 846.5,174.3 849.8,173.7 C851.9,173.3 852.6,173.8 855.0,173.8 C860.9,173.7 875.7,172.5 885.0,172.0 C893.2,171.5 900.3,171.2 908.0,170.8 C915.7,170.3 923.4,169.7 931.0,169.5 C938.6,169.3 946.2,169.6 953.8,169.6 C961.3,169.6 968.9,169.6 976.5,169.7 C984.1,169.7 991.7,169.7 999.2,169.7 C1006.8,169.8 1014.1,169.6 1022.0,169.8 C1030.6,170.1 1042.4,171.6 1049.0,171.4 C1052.8,171.3 1055.0,170.4 1058.0,170.3 C1061.0,170.2 1063.1,170.9 1067.0,171.0 C1074.2,171.3 1087.4,170.9 1097.6,170.8 C1107.7,170.7 1120.2,170.8 1128.0,170.6 C1132.9,170.5 1135.5,170.2 1140.0,170.2 C1145.8,170.2 1153.3,170.4 1160.0,170.5 C1166.7,170.6 1173.3,170.8 1180.0,170.9 C1186.7,171.0 1192.7,171.3 1200.0,171.2 C1209.0,171.1 1220.5,169.9 1230.0,169.7 C1238.7,169.6 1246.7,170.0 1255.0,170.1 C1263.3,170.3 1271.7,170.6 1280.0,170.6 C1288.3,170.6 1296.7,170.3 1305.0,170.1 C1313.3,170.0 1322.0,169.8 1330.0,169.7 C1337.3,169.6 1344.0,169.6 1351.0,169.6 C1358.0,169.6 1366.4,168.0 1372.0,169.5 C1376.1,170.6 1378.5,174.2 1382.0,175.5 C1385.2,176.7 1388.7,176.2 1392.0,177.4 C1395.7,178.7 1399.1,183.3 1403.0,183.2 C1407.6,183.1 1413.1,175.9 1418.0,174.7 C1422.1,173.7 1426.2,174.8 1430.0,175.3 C1433.5,175.7 1436.5,175.9 1440.1,177.2 C1444.8,178.9 1450.9,184.7 1455.3,185.5 C1458.3,186.0 1460.5,185.4 1463.3,184.4 C1467.1,183.1 1471.2,179.5 1475.5,177.2 C1480.2,174.7 1485.4,171.3 1490.6,170.1 C1495.5,169.0 1501.4,168.9 1505.8,170.1 C1509.7,171.2 1513.0,172.8 1515.9,176.2 C1520.1,181.2 1523.3,192.6 1525.2,200.4 C1526.8,207.3 1526.5,213.9 1527.2,220.6 C1527.9,227.3 1528.1,233.5 1529.2,240.8 C1530.5,249.7 1532.7,270.0 1535.0,270.1 C1537.3,270.2 1540.9,249.7 1543.1,240.8 C1544.9,233.5 1546.0,227.3 1547.4,220.6 C1548.7,213.9 1549.1,206.2 1551.2,200.4 C1552.9,195.6 1555.1,191.2 1558.0,188.0 C1560.5,185.2 1564.6,181.0 1566.9,181.7 C1569.5,182.5 1570.5,189.5 1572.0,195.0 C1574.2,203.1 1574.9,226.1 1577.0,226.2 C1578.9,226.3 1580.9,207.0 1584.0,200.4 C1586.2,195.7 1588.1,192.0 1591.6,189.3 C1595.5,186.3 1602.2,185.3 1606.8,184.0 C1610.5,182.9 1613.4,182.8 1616.9,181.7 C1621.1,180.4 1625.1,177.7 1630.1,176.3 C1636.0,174.6 1643.5,173.8 1650.3,173.0 C1657.0,172.2 1663.9,171.6 1670.5,171.7 C1676.7,171.8 1683.1,173.7 1688.7,173.2 C1693.7,172.8 1698.2,169.3 1702.8,169.7 C1707.3,170.1 1712.4,172.3 1716.0,175.5 C1719.9,179.0 1722.7,185.2 1724.7,190.4 C1726.7,195.5 1725.4,205.0 1728.1,206.6 C1730.0,207.7 1733.8,203.1 1736.2,204.0 C1739.5,205.2 1741.3,214.2 1744.2,217.7 C1746.4,220.3 1748.9,221.0 1751.3,223.7 C1754.6,227.4 1757.7,238.3 1761.4,238.9 C1764.5,239.4 1768.3,234.0 1771.5,230.8 C1775.1,227.1 1778.1,221.6 1781.6,217.7 C1784.8,214.1 1788.3,211.2 1791.7,208.0 C1795.1,204.8 1798.5,201.7 1801.8,198.5 C1805.2,195.2 1808.5,191.2 1811.9,188.4 C1814.8,186.0 1817.5,184.2 1820.5,182.3 C1823.6,180.4 1826.7,177.6 1830.2,177.2 C1833.9,176.8 1838.1,180.7 1842.3,180.3 C1847.0,179.9 1852.0,173.0 1856.9,173.6 C1862.7,174.3 1869.1,187.9 1874.6,188.0 C1879.2,188.1 1882.9,177.9 1887.6,178.0 C1893.5,178.2 1901.8,193.3 1907.0,194.8 C1909.8,195.6 1912.0,193.0 1914.2,193.6 C1916.4,194.2 1918.4,198.9 1920.0,198.5 C1922.1,198.0 1922.6,189.8 1924.7,186.4 C1926.5,183.5 1928.5,181.3 1931.2,179.1 C1934.5,176.4 1939.1,173.3 1943.3,171.8 C1947.2,170.4 1952.1,170.2 1955.5,169.8 C1958.0,169.5 1960.9,169.6 1962.0,169.5"/>
</g>
<rect x="198" y="27" width="1761" height="1423" fill="none" stroke="#000" stroke-width="6"/>
<path d="M198.0,1450V1478 M329.4,1450V1464 M460.8,1450V1478 M592.2,1450V1464 M723.7,1450V1478 M855.1,1450V1464 M986.5,1450V1478 M1117.9,1450V1464 M1249.3,1450V1478 M1380.7,1450V1464 M1512.2,1450V1478 M1643.6,1450V1464 M1775.0,1450V1478 M1906.4,1450V1464" stroke="#000" stroke-width="6" fill="none"/>
<g font-family="Liberation Sans, Arial, sans-serif" font-size="81.5" text-anchor="middle" fill="#000" clip-path="url(#nf)">
<text transform="translate(198.0,1560) scale(1,1.018)" x="0" y="0">4000</text>
<text transform="translate(460.8,1560) scale(1,1.018)" x="0" y="0">3500</text>
<text transform="translate(723.7,1560) scale(1,1.018)" x="0" y="0">3000</text>
<text transform="translate(986.5,1560) scale(1,1.018)" x="0" y="0">2500</text>
<text transform="translate(1249.3,1560) scale(1,1.018)" x="0" y="0">2000</text>
<text transform="translate(1510.7,1560) scale(1,1.018)" x="0" y="0"><tspan dx="3.5">1</tspan><tspan dx="-3.5">5</tspan>00</text>
<text transform="translate(1773.5,1560) scale(1,1.018)" x="0" y="0"><tspan dx="3.5">1</tspan><tspan dx="-3.5">0</tspan>00</text>
</g>
<text x="722" y="1711" font-family="Liberation Sans, Arial, sans-serif" font-weight="bold" font-size="81" fill="#000">Wavenumber/cm</text>
<text x="1370" y="1681" font-family="Liberation Sans, Arial, sans-serif" font-size="56" fill="#000">−</text>
<g clip-path="url(#nf)"><text x="1406" y="1679" font-family="Liberation Sans, Arial, sans-serif" font-weight="bold" font-size="59" fill="#000">1</text></g>
<text transform="translate(82.5,1029) rotate(-90) scale(1,1.03)" x="0" y="0" font-family="Liberation Sans, Arial, sans-serif" font-weight="bold" font-size="81.2" fill="#000">Transmittance/%</text>
<g font-family="Liberation Sans, Arial, sans-serif" font-size="54.2" fill="#000">
<text transform="translate(621.6,112.1) scale(1,1.04)" x="0" y="0" textLength="960.7" lengthAdjust="spacingAndGlyphs">OREC/WEO composite modified asphalt</text>
<text transform="translate(867.8,286.9) scale(1,1.04)" x="0" y="0" textLength="530.4" lengthAdjust="spacingAndGlyphs">WEO modified asphalt</text>
<text transform="translate(964.9,569.8) scale(1,1.04)" x="0" y="0" textLength="308.6" lengthAdjust="spacingAndGlyphs">Base asphalt</text>
<text transform="translate(1050,842.7) scale(1,1.04)" x="0" y="0" textLength="153" lengthAdjust="spacingAndGlyphs">OREC</text>
<text transform="translate(1064.8,1042.9) scale(1,1.04)" x="0" y="0" textLength="128.4" lengthAdjust="spacingAndGlyphs">WEO</text>
</g>
</svg>
</body></html>
